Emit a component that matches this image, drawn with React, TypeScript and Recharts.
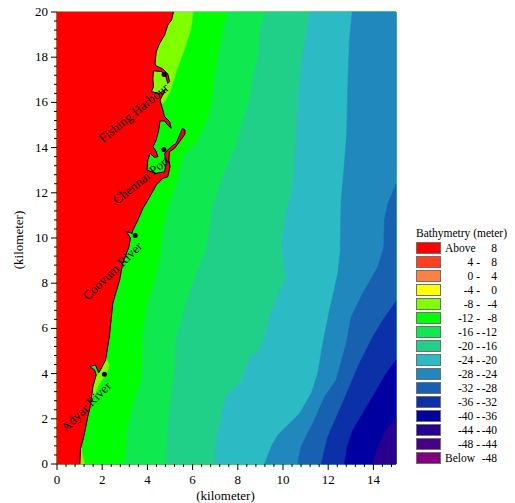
import { ReferenceLine, Scatter, ScatterChart, XAxis, YAxis } from "recharts";

type Pt = [number, number];

const FONT = '"Liberation Serif", "Times New Roman", serif';

const xTicks = [0, 0.4, 0.8, 1.2, 1.6, 2, 2.4, 2.8, 3.2, 3.6, 4, 4.4, 4.8, 5.2, 5.6, 6, 6.4, 6.8, 7.2, 7.6, 8, 8.4, 8.8, 9.2, 9.6, 10, 10.4, 10.8, 11.2, 11.6, 12, 12.4, 12.8, 13.2, 13.6, 14, 14.4, 14.8];
const yTicks = [0, 0.4, 0.8, 1.2, 1.6, 2, 2.4, 2.8, 3.2, 3.6, 4, 4.4, 4.8, 5.2, 5.6, 6, 6.4, 6.8, 7.2, 7.6, 8, 8.4, 8.8, 9.2, 9.6, 10, 10.4, 10.8, 11.2, 11.6, 12, 12.4, 12.8, 13.2, 13.6, 14, 14.4, 14.8, 15.2, 15.6, 16, 16.4, 16.8, 17.2, 17.6, 18, 18.4, 18.8, 19.2, 19.6, 20];

// contour lines, [x km, y km], north to south
const plotArea: Pt[] = [[0, 20], [15, 20], [15, 0], [0, 0]];
const edge8: Pt[] = [[6.05, 20], [5.94, 19.2], [5.64, 18.3], [5.35, 17.5], [5.05, 16.55], [4.79, 16.03], [4.68, 15.93], [3, 15.9], [0, 15.9], [0, 0]];
const edge12: Pt[] = [[7.56, 20], [7.41, 19.42], [7.12, 18.02], [6.97, 17], [6.87, 15.96], [6.6, 15.07], [6.16, 14.19], [5.64, 13.67], [5.42, 13], [5.35, 12.57], [4.98, 11.53], [4.68, 10.2], [4.61, 9.47], [4.5, 8.73], [4.31, 8], [4.02, 7.11], [3.83, 5.93], [3.8, 5.04], [3.77, 3.86], [3.43, 2.83], [3.13, 1.65], [2.99, 0]];
const edge16: Pt[] = [[9.22, 20], [8.96, 19.06], [8.89, 18.02], [8.67, 17.14], [8.52, 16.1], [8.15, 14.93], [7.93, 14.04], [7.34, 12.71], [6.89, 11.39], [6.67, 9.91], [6.6, 9.47], [6.23, 8.58], [5.71, 7.11], [5.27, 5.49], [5.2, 4.01], [4.98, 2.54], [4.79, 0]];
const edge20: Pt[] = [[11.17, 20], [11.03, 19.06], [10.8, 17.58], [10.65, 16.26], [10.58, 14.2], [10.43, 12.27], [10.14, 11.1], [9.95, 9.91], [9.95, 9.47], [10.11, 8.22], [9.4, 6.52], [9.14, 5.49], [8.89, 4.9], [8.59, 4.82], [8.34, 4.16], [8.15, 3.64], [7.49, 2.98], [7.26, 2.09], [7.04, 1.06], [7, 0]];
const edge24: Pt[] = [[13.06, 20], [12.94, 18.76], [12.87, 16.86], [12.82, 14.64], [12.68, 12.86], [12.57, 11.68], [12.54, 9.91], [12.54, 9.47], [12.43, 8.44], [12.06, 6.81], [11.76, 5.34], [11.54, 4.01], [11.25, 3.12], [10.73, 2.24], [9.77, 1.28], [9.48, 0.77], [9.18, 0]];
const edge28: Pt[] = [[15, 12.4], [14.96, 12.27], [14.64, 11.53], [14.49, 10.8], [14.46, 9.62], [14.42, 9.47], [14.2, 8.73], [13.53, 7.55], [13.02, 6.52], [12.8, 5.34], [12.35, 3.72], [11.84, 2.98], [11.39, 1.95], [10.8, 0.77], [10.65, 0]];
const edge32: Pt[] = [[15, 7.2], [14.42, 6.37], [13.97, 5.63], [13.38, 4.46], [12.94, 3.42], [12.5, 2.39], [11.98, 1.21], [11.69, 0]];
const edge36: Pt[] = [[15, 4.6], [14.57, 4.01], [14.05, 3.12], [13.53, 2.24], [13.09, 1.5], [12.84, 0.77], [12.72, 0]];
const edge40: Pt[] = [[15, 2.05], [14.57, 1.5], [14.2, 0.77], [13.97, 0]];

const adyarPatch: Pt[] = [[2.18, 4.68], [2.32, 4.38], [2.2, 4], [1.88, 3.57], [1.66, 3.05], [1.51, 2.98], [1.6, 3.5], [1.9, 4.2]];
const southPatch: Pt[] = [[1.07, 0.69], [1.14, 0.32], [1.22, 0], [1, 0], [1, 0.69]];

const coast: Pt[] = [
  [5.15, 20], [5.07, 19.65], [4.9, 19.42], [4.76, 18.98], [4.54, 18.61], [4.39, 18.24], [4.34, 17.73], [4.36, 17.63],
  [4.68, 17.48], [4.9, 17.26], [4.98, 16.92], [4.9, 16.84], [4.8, 17.21], [4.61, 17.37], [4.27, 17.4], [4.24, 17.06],
  [4.27, 16.7], [4.17, 16.47], [4.54, 16.4], [4.8, 16.58], [4.56, 16.1], [4.68, 15.66], [4.76, 15.37], [4.98, 15.15],
  [5.05, 14.85], [4.9, 15], [4.76, 15.18], [4.56, 15.19], [4.5, 14.78], [4.39, 14.34], [4.25, 14.04], [4.39, 13.82],
  [4.46, 13.6], [4.31, 13.57], [4.12, 13.75], [4.02, 13.45], [3.98, 13], [4.39, 12.86], [4.76, 12.93], [4.83, 13.3],
  [4.76, 13.75], [5.05, 14.04], [5.27, 14.19], [5.49, 14.7], [5.54, 14.85], [5.66, 14.78], [5.66, 14.6], [5.42, 14.26],
  [5.2, 13.97], [4.98, 13.82], [4.95, 13.45], [5, 13.16], [4.9, 12.71], [4.68, 12.64], [4.39, 12.34], [4.02, 11.68],
  [3.8, 11.31], [3.58, 10.8], [3.36, 10.35], [3.32, 10.2], [3.06, 10.3], [3.25, 10], [3.18, 9.6], [2.91, 8.88],
  [2.77, 8.14], [2.62, 7.63], [2.47, 7.11], [2.4, 6.45], [2.32, 5.66], [2.22, 5.04], [2.15, 4.6], [1.92, 4.16],
  [1.85, 4.04], [1.7, 4.38], [1.44, 4.31], [1.66, 4.16], [1.73, 3.94], [1.59, 3.42], [1.47, 2.54], [1.36, 2.09],
  [1.26, 1.58], [1.17, 1.14], [1.04, 0.69], [1.01, 0],
];

const placeX = [4.74, 4.73, 3.46, 2.1];
const placeY = [17.23, 13.92, 10.11, 3.97];

const labelText = ["Fishing Harbour", "Chennai Port", "Coovum River", "Adyar River"];
const labelX = [3.43, 3.76, 2.5, 1.33];
const labelY = [15.49, 12.52, 8.5, 2.5];
const labelAngle = [-39, -39, -44, -45];

const legendColors = ["#FF0000", "#FF4020", "#FF8040", "#FFFF00", "#80FF00", "#00FF00", "#10E850", "#20D088", "#2CBAC4", "#2088BC", "#1860B0", "#0C30A8", "#0000A0", "#280090", "#480088", "#800080"];
const legendFrom = ["Above", "4 -", "0 -", "-4 -", "-8 -", "-12 -", "-16 -", "-20 -", "-24 -", "-28 -", "-32 -", "-36 -", "-40 -", "-44 -", "-48 -", "Below"];
const legendTo = ["8", "8", "4", "0", "-4", "-8", "-12", "-16", "-20", "-24", "-28", "-32", "-36", "-40", "-44", "-48"];

const toRows = (pts: Pt[]) => pts.map(([x, y]) => ({ x, y }));
// region east of a contour: run down the contour, close along the right edge
const eastOf = (pts: Pt[]): Pt[] => [...pts, [15, 0], [15, pts[0][1]]];
const westOf = (pts: Pt[]): Pt[] => [...pts, [0, 0], [0, 20]];

const pathOf = (points: { x: number; y: number }[], close: boolean) =>
  "M" + points.map((p) => `${p.x},${p.y}`).join("L") + (close ? "Z" : "");

const noDot = () => <g />;

const filled = (fill: string) => (props: any) =>
  <path d={pathOf(props.points, true)} fill={fill} stroke={fill} strokeWidth={0.5} />;

const outlined = (props: any) =>
  <path d={pathOf(props.points, false)} fill="none" stroke="#000" strokeWidth={1} />;

const placeDot = (props: any) => <circle cx={props.cx} cy={props.cy} r={2.5} fill="#000" />;

const XTick = ({ x, y, payload }: any) => {
  const major = payload.value % 2 === 0;
  return (
    <g>
      <line x1={x} x2={x} y1={y} y2={y + (major ? 6 : 3)} stroke="#000" />
      {major && (
        <text x={x} y={y + 20} textAnchor="middle" fontFamily={FONT} fontSize={13} fill="#000">
          {payload.value}
        </text>
      )}
    </g>
  );
};

const YTick = ({ x, y, payload }: any) => {
  const major = payload.value % 2 === 0;
  return (
    <g>
      <line x1={x - (major ? 6 : 3)} x2={x} y1={y} y2={y} stroke="#000" />
      {major && (
        <text x={x - 9} y={y + 4} textAnchor="end" fontFamily={FONT} fontSize={13} fill="#000">
          {payload.value}
        </text>
      )}
    </g>
  );
};

const PlaceName = (props: any) => (
  <text
    x={props.cx}
    y={props.cy}
    textAnchor="middle"
    dominantBaseline="middle"
    transform={`rotate(${props.payload.angle} ${props.cx} ${props.cy})`}
    fontFamily={FONT}
    fontSize={13}
    fill="#000"
  >
    {props.payload.name}
  </text>
);

const labelRows = labelText.map((name, i) => ({ name, x: labelX[i], y: labelY[i], angle: labelAngle[i] }));
const placeRows = placeX.map((x, i) => ({ x, y: placeY[i] }));

function Legend() {
  return (
    <div style={{ position: "absolute", left: 416, top: 226, width: 99, fontFamily: FONT, fontSize: 11.5, color: "#000" }}>
      <div style={{ whiteSpace: "nowrap", lineHeight: "14px" }}>Bathymetry (meter)</div>
      {legendColors.map((c, i) => (
        <div key={c} style={{ position: "absolute", top: 16 + i * 14, left: 0, width: 99, height: 14 }}>
          <div style={{ position: "absolute", left: 0, top: 0, width: 23, height: 10, background: c, border: "1px solid #707070" }} />
          <span style={{ position: "absolute", right: i === 0 || i === 15 ? undefined : 35, left: i === 0 || i === 15 ? 29 : undefined, lineHeight: "12px", whiteSpace: "nowrap" }}>
            {legendFrom[i]}
          </span>
          <span style={{ position: "absolute", right: 18, lineHeight: "12px" }}>{legendTo[i]}</span>
        </div>
      ))}
    </div>
  );
}

const regions: { pts: Pt[]; fill: string }[] = [
  { pts: plotArea, fill: legendColors[4] },
  { pts: eastOf(edge8), fill: legendColors[5] },
  { pts: adyarPatch, fill: legendColors[4] },
  { pts: southPatch, fill: "#B0E000" },
  { pts: eastOf(edge12), fill: legendColors[6] },
  { pts: eastOf(edge16), fill: legendColors[7] },
  { pts: eastOf(edge20), fill: legendColors[8] },
  { pts: eastOf(edge24), fill: legendColors[9] },
  { pts: eastOf(edge28), fill: legendColors[10] },
  { pts: eastOf(edge32), fill: legendColors[11] },
  { pts: eastOf(edge36), fill: legendColors[12] },
  { pts: eastOf(edge40), fill: legendColors[13] },
  { pts: westOf(coast), fill: legendColors[0] },
];

export default function App() {
  return (
    <div style={{ position: "absolute", left: 0, top: 0, width: 515, height: 503, background: "#fff" }}>
      <ScatterChart width={515} height={503} margin={{ top: 12, right: 119, bottom: 0, left: 7 }}>
        <XAxis
          type="number"
          dataKey="x"
          domain={[0, 15]}
          ticks={xTicks}
          interval={0}
          tickLine={false}
          tickSize={0}
          tickMargin={0}
          tick={<XTick />}
          stroke="#000"
          height={39}
          label={{ value: "(kilometer)", position: "insideBottom", offset: 3, dx: -1, style: { fontFamily: FONT, fontSize: 13, fill: "#000" } }}
        />
        <YAxis
          type="number"
          dataKey="y"
          domain={[0, 20]}
          ticks={yTicks}
          interval={0}
          tickLine={false}
          tickSize={0}
          tickMargin={0}
          tick={<YTick />}
          stroke="#000"
          width={50}
          label={{ value: "(kilometer)", angle: -90, position: "insideLeft", offset: 0, dx: 11, dy: 2, style: { fontFamily: FONT, fontSize: 13, fill: "#000", textAnchor: "middle" } }}
        />
        {regions.map((r, i) => (
          <Scatter key={i} data={toRows(r.pts)} shape={noDot} line={filled(r.fill)} isAnimationActive={false} />
        ))}
        <Scatter data={toRows(coast)} shape={noDot} line={outlined} isAnimationActive={false} />
        <Scatter data={placeRows} shape={placeDot} isAnimationActive={false} />
        <Scatter data={labelRows} shape={PlaceName} isAnimationActive={false} />
        <ReferenceLine x={15} stroke="#000" />
        <ReferenceLine y={20} stroke="#808080" />
      </ScatterChart>
      <Legend />
    </div>
  );
}
